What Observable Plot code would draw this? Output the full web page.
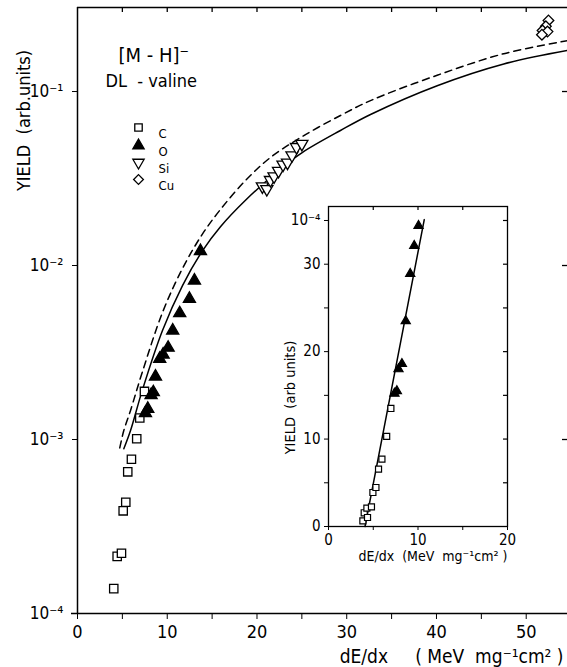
<!DOCTYPE html>
<html><head><meta charset="utf-8">
<script src="https://cdn.jsdelivr.net/npm/d3@7"></script>
<script src="https://cdn.jsdelivr.net/npm/@observablehq/plot@0.6"></script>
<style>
body{margin:0;background:#fff;}
#wrap{position:relative;width:567px;height:667px;overflow:hidden;background:#fff;}
#main{position:absolute;left:0;top:0;}
#inset{position:absolute;left:270px;top:190px;}
svg{font-family:"Liberation Sans Narrow","DejaVu Sans Condensed","Liberation Sans",sans-serif;}
</style></head><body>
<div id="wrap"><div id="main"></div><div id="inset"></div></div>
<script>
// ---- main plot data (dE/dx in MeV mg^-1 cm^2, yield in arb. units) ----
const cX = [4.04, 4.42, 4.90, 5.09, 5.38, 5.60, 6.01, 6.60, 6.94, 7.46];
const cY = [1.39e-4, 2.13e-4, 2.22e-4, 3.89e-4, 4.36e-4, 6.52e-4, 7.7e-4, 1.01e-3, 1.33e-3, 1.89e-3];
const oX = [7.57, 7.83, 8.20, 8.45, 8.69, 9.16, 9.54, 10.10, 10.61, 11.39, 12.47, 13.03, 13.70];
const oY = [1.42e-3, 1.50e-3, 1.80e-3, 1.87e-3, 2.30e-3, 2.91e-3, 3.08e-3, 3.37e-3, 4.23e-3, 5.32e-3, 6.44e-3, 8.2e-3, 1.21e-2];
const siX = [20.6, 21.1, 21.5, 21.9, 22.4, 22.9, 23.4, 23.9, 24.4, 25.0];
const siY = [2.85e-2, 2.75e-2, 3.1e-2, 3.25e-2, 3.5e-2, 3.8e-2, 3.9e-2, 4.3e-2, 4.8e-2, 5.0e-2];
const cuX = [52.48, 52.19, 51.82, 52.37, 51.75];
const cuY = [0.256, 0.237, 0.224, 0.221, 0.212];
const solidX = [5.16, 5.91, 7.21, 9.47, 11.70, 13.90, 15.93, 18.72, 22.81, 25.04, 29.3, 32.65, 40.08, 47.5, 54.57];
const solidY = [8.85e-4, 1.126e-3, 1.91e-3, 4.23e-3, 7.67e-3, 1.21e-2, 1.67e-2, 2.37e-2, 3.66e-2, 4.46e-2, 5.97e-2, 7.38e-2, 0.108, 0.144, 0.172];
const dashX = [4.71, 5.16, 5.91, 7.21, 9.47, 11.70, 13.90, 15.93, 18.72, 21.51, 25.22, 29.3, 32.65, 40.08, 47.5, 54.57];
const dashY = [8.95e-4, 1.126e-3, 1.47e-3, 2.43e-3, 5.37e-3, 9.62e-3, 1.51e-2, 2.10e-2, 3.08e-2, 4.18e-2, 5.58e-2, 7.28e-2, 8.87e-2, 0.124, 0.165, 0.196];
const xTicks = [0, 5, 10, 15, 20, 25, 30, 35, 40, 45, 50];
const yTicks = [1e-4, 1e-3, 1e-2, 1e-1];
const legendLabels = ["C", "O", "Si", "Cu"];

// ---- inset data (yield in units of 10^-4) ----
const icX = [3.84, 3.99, 4.29, 4.36, 4.80, 4.96, 5.30, 5.59, 5.97, 6.50, 6.97];
const icY = [0.65, 1.57, 2.1, 1.03, 2.25, 3.89, 4.46, 6.57, 7.71, 10.3, 13.5];
const ioX = [7.37, 7.64, 7.82, 8.20, 8.63, 9.13, 9.58, 10.06];
const ioY = [15.2, 15.5, 18.0, 18.6, 23.5, 28.9, 32.1, 34.4];
const fitX = [4.08, 10.7];
const fitY = [0, 35.1];
const ixTicks = [0, 5, 10, 15, 20];
const iyTicks = [0, 5, 10, 15, 20, 25, 30, 35];

const zip = (xs, ys) => xs.map((x, i) => ({x, y: ys[i]}));
const supMap = {"-": "\u207B", "0": "\u2070", "1": "\u00B9", "2": "\u00B2", "3": "\u00B3", "4": "\u2074"};
const sup = s => String(s).split("").map(c => supMap[c] || c).join("");
const nb = n => "\u00a0".repeat(n);

const yMin = 1e-4, yMax = 0.304;
const mk = {stroke: "black", strokeWidth: 1.3};
const legendDy = [120, 138, 155, 172];
const legendSym = [
  {symbol: "square", fill: "white", r: 4.2},
  {symbol: "triangle", fill: "black", r: 4.2},
  {symbol: "triangle", fill: "white", r: 4.2, rotate: 180},
  {symbol: "diamond2", fill: "white", r: 4.4}
];

const main = Plot.plot({
  width: 567, height: 667,
  marginLeft: 77, marginRight: 0, marginTop: 7, marginBottom: 54,
  style: {background: "transparent", color: "black"},
  x: {domain: [0, 54.6]},
  y: {type: "log", domain: [yMin, yMax]},
  marks: [
    Plot.ruleX([0], {strokeWidth: 1.5}),
    Plot.ruleY([yMin], {strokeWidth: 1.5, insetLeft: -6}),
    Plot.ruleY([yMax], {strokeWidth: 1.5}),
    Plot.axisX({ticks: xTicks, tickSize: 6, tickPadding: 6, fontSize: 18,
      tickFormat: d => d % 10 === 0 ? String(d) : "", label: null}),
    Plot.axisY({ticks: yTicks, tickSize: 5, tickPadding: 9, fontSize: 17,
      tickFormat: d => "10" + sup(Math.round(Math.log10(d))), label: null}),
    Plot.tickX(xTicks.filter(d => d > 0), {x: d => d, insetBottom: 601, strokeWidth: 1.3}),
    Plot.tickY(yTicks.slice(1), {y: d => d, insetLeft: 485, strokeWidth: 1.3}),
    Plot.line(zip(dashX, dashY), {x: "x", y: "y", curve: "catmull-rom", strokeWidth: 1.5, strokeDasharray: "7,5"}),
    Plot.line(zip(solidX, solidY), {x: "x", y: "y", curve: "catmull-rom", strokeWidth: 1.5}),
    Plot.dot(zip(cX, cY), {x: "x", y: "y", symbol: "square", r: 4.7, fill: "white", ...mk}),
    Plot.dot(zip(oX, oY), {x: "x", y: "y", symbol: "triangle", r: 4.5, fill: "black", ...mk}),
    Plot.dot(zip(siX, siY), {x: "x", y: "y", symbol: "triangle", rotate: 180, r: 4.5, fill: "white", ...mk}),
    Plot.dot(zip(cuX, cuY), {x: "x", y: "y", symbol: "diamond2", r: 4.8, fill: "white", ...mk}),
    // annotation text
    Plot.text(["[M - H]" + sup("-")], {frameAnchor: "top-left", dx: 41, dy: 40, textAnchor: "start", fontSize: 20}),
    Plot.text(["DL" + nb(2) + "- valine"], {frameAnchor: "top-left", dx: 28, dy: 67, textAnchor: "start", fontSize: 18}),
    // legend
    ...legendSym.map((s, i) => Plot.dot([legendLabels[i]], {frameAnchor: "top-left", dx: 61, dy: legendDy[i], ...mk, ...s})),
    ...legendLabels.map((t, i) => Plot.text([t], {frameAnchor: "top-left", dx: 81, dy: legendDy[i] + 1, textAnchor: "start", fontSize: 13})),
    // axis titles
    Plot.text(["YIELD" + nb(2) + "(arb.units)"], {frameAnchor: "top-left", dx: -60, dy: 113, rotate: -90, textAnchor: "middle", fontSize: 18}),
    Plot.text(["dE/dx" + nb(5) + "(" + nb(1) + "MeV" + nb(2) + "mg" + sup("-1") + "cm" + sup("2") + nb(1) + ")"],
      {frameAnchor: "bottom-right", dx: -4, dy: 49, textAnchor: "end", fontSize: 19})
  ]
});
document.getElementById("main").append(main);

const inset = Plot.plot({
  width: 250, height: 380,
  marginLeft: 58, marginRight: 13, marginTop: 16, marginBottom: 44,
  style: {background: "transparent", color: "black"},
  x: {domain: [0, 20]},
  y: {domain: [0, 36.6]},
  marks: [
    Plot.frame({strokeWidth: 1.3}),
    Plot.axisX({ticks: ixTicks, tickSize: 4, tickPadding: 4, fontSize: 15,
      tickFormat: d => d % 10 === 0 ? String(d) : "", label: null}),
    Plot.axisY({ticks: iyTicks, tickSize: 4, tickPadding: 4, fontSize: 15,
      tickFormat: d => d === 35 ? "10" + sup("-4") : (d % 10 === 0 ? String(d) : ""), label: null}),
    Plot.tickX(ixTicks.slice(1, -1), {x: d => d, insetBottom: 316, strokeWidth: 1.2}),
    Plot.tickY(iyTicks.slice(1), {y: d => d, insetLeft: 175, strokeWidth: 1.2}),
    Plot.line(zip(fitX, fitY), {x: "x", y: "y", strokeWidth: 1.5}),
    Plot.dot(zip(icX, icY), {x: "x", y: "y", symbol: "square", r: 3.4, fill: "white", stroke: "black", strokeWidth: 1.2}),
    Plot.dot(zip(ioX, ioY), {x: "x", y: "y", symbol: "triangle", r: 3.4, fill: "black", stroke: "black", strokeWidth: 1.2}),
    Plot.text(["YIELD" + nb(2) + "(arb units)"], {frameAnchor: "left", dx: -38, dy: 31, rotate: -90, textAnchor: "middle", fontSize: 14.5}),
    Plot.text(["dE/dx" + nb(2) + "(MeV" + nb(2) + "mg" + sup("-1") + "cm" + sup("2") + nb(1) + ")"],
      {frameAnchor: "bottom", dx: 15, dy: 34, fontSize: 14})
  ]
});
document.getElementById("inset").append(inset);
</script>
</body></html>
